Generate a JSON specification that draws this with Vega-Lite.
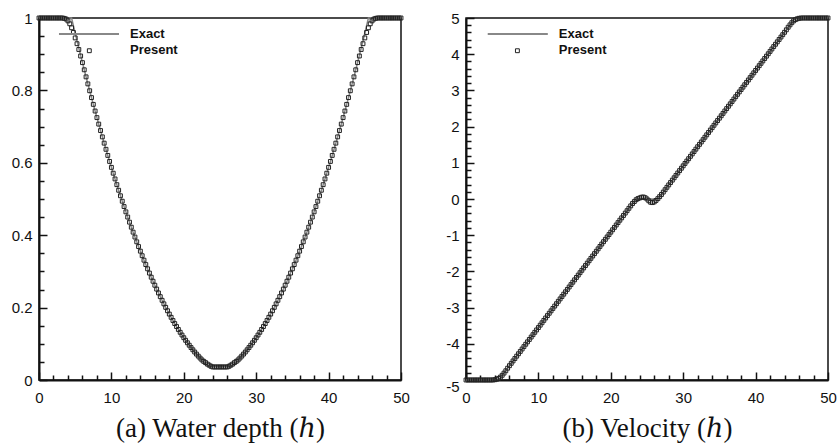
{
"$schema": "https://vega.github.io/schema/vega-lite/v6.json",
"padding": {"left": 10, "top": 10, "right": 5, "bottom": 5},
"background": "white",
"spacing": 33,
"config": {
  "view": {"stroke": "#111", "strokeWidth": 1.5},
  "axis": {"labelFont": "Liberation Sans", "labelFontSize": 15, "labelColor": "#111", "domainColor": "#111", "domainWidth": 2, "tickColor": "#111", "tickWidth": 1.5, "grid": false, "titleFont": "Liberation Serif, DejaVu Serif, serif", "titleFontSize": 27, "titleFontWeight": "normal", "titleColor": "#111"}
},
"datasets": {
"d": [
{"x":0,"he":1,"ue":-5,"hp":1,"up":-5},
{"x":0.25,"he":1,"ue":-5,"hp":1,"up":-5},
{"x":0.5,"he":1,"ue":-5,"hp":1,"up":-5},
{"x":0.75,"he":1,"ue":-5,"hp":1,"up":-5},
{"x":1,"he":1,"ue":-5,"hp":1,"up":-5},
{"x":1.25,"he":1,"ue":-5,"hp":1,"up":-5},
{"x":1.5,"he":1,"ue":-5,"hp":1,"up":-5},
{"x":1.75,"he":1,"ue":-5,"hp":1,"up":-5},
{"x":2,"he":1,"ue":-5,"hp":1,"up":-5},
{"x":2.25,"he":1,"ue":-5,"hp":1,"up":-5},
{"x":2.5,"he":1,"ue":-5,"hp":1,"up":-5},
{"x":2.75,"he":1,"ue":-5,"hp":1,"up":-5},
{"x":3,"he":1,"ue":-5,"hp":1,"up":-5},
{"x":3.25,"he":1,"ue":-5,"hp":1,"up":-5},
{"x":3.5,"he":1,"ue":-5,"hp":0.999,"up":-5},
{"x":3.75,"he":1,"ue":-5,"hp":0.997,"up":-4.998},
{"x":4,"he":1,"ue":-5,"hp":0.992,"up":-4.992},
{"x":4.25,"he":1,"ue":-5,"hp":0.984,"up":-4.978},
{"x":4.5,"he":1,"ue":-5,"hp":0.973,"up":-4.955},
{"x":4.75,"he":0.9789,"ue":-4.934,"hp":0.96,"up":-4.92},
{"x":5,"he":0.958,"ue":-4.868,"hp":0.945,"up":-4.87},
{"x":5.25,"he":0.9373,"ue":-4.802,"hp":0.929,"up":-4.81},
{"x":5.5,"he":0.9169,"ue":-4.737,"hp":0.913,"up":-4.745},
{"x":5.75,"he":0.8967,"ue":-4.671,"hp":0.895,"up":-4.674},
{"x":6,"he":0.8767,"ue":-4.605,"hp":0.8767,"up":-4.605},
{"x":6.25,"he":0.8569,"ue":-4.539,"hp":0.8569,"up":-4.539},
{"x":6.5,"he":0.8374,"ue":-4.473,"hp":0.8374,"up":-4.473},
{"x":6.75,"he":0.818,"ue":-4.407,"hp":0.818,"up":-4.407},
{"x":7,"he":0.799,"ue":-4.341,"hp":0.799,"up":-4.341},
{"x":7.25,"he":0.7801,"ue":-4.275,"hp":0.7801,"up":-4.275},
{"x":7.5,"he":0.7614,"ue":-4.21,"hp":0.7614,"up":-4.21},
{"x":7.75,"he":0.743,"ue":-4.144,"hp":0.743,"up":-4.144},
{"x":8,"he":0.7248,"ue":-4.078,"hp":0.7248,"up":-4.078},
{"x":8.25,"he":0.7069,"ue":-4.012,"hp":0.7069,"up":-4.012},
{"x":8.5,"he":0.6891,"ue":-3.946,"hp":0.6891,"up":-3.946},
{"x":8.75,"he":0.6716,"ue":-3.88,"hp":0.6716,"up":-3.88},
{"x":9,"he":0.6543,"ue":-3.814,"hp":0.6543,"up":-3.814},
{"x":9.25,"he":0.6373,"ue":-3.748,"hp":0.6373,"up":-3.748},
{"x":9.5,"he":0.6204,"ue":-3.683,"hp":0.6204,"up":-3.683},
{"x":9.75,"he":0.6038,"ue":-3.617,"hp":0.6038,"up":-3.617},
{"x":10,"he":0.5874,"ue":-3.551,"hp":0.5874,"up":-3.551},
{"x":10.25,"he":0.5713,"ue":-3.485,"hp":0.5713,"up":-3.485},
{"x":10.5,"he":0.5554,"ue":-3.419,"hp":0.5554,"up":-3.419},
{"x":10.75,"he":0.5396,"ue":-3.353,"hp":0.5396,"up":-3.353},
{"x":11,"he":0.5242,"ue":-3.287,"hp":0.5242,"up":-3.287},
{"x":11.25,"he":0.5089,"ue":-3.221,"hp":0.5089,"up":-3.221},
{"x":11.5,"he":0.4939,"ue":-3.156,"hp":0.4939,"up":-3.156},
{"x":11.75,"he":0.4791,"ue":-3.09,"hp":0.4791,"up":-3.09},
{"x":12,"he":0.4645,"ue":-3.024,"hp":0.4645,"up":-3.024},
{"x":12.25,"he":0.4501,"ue":-2.958,"hp":0.4501,"up":-2.958},
{"x":12.5,"he":0.436,"ue":-2.892,"hp":0.436,"up":-2.892},
{"x":12.75,"he":0.4221,"ue":-2.826,"hp":0.4221,"up":-2.826},
{"x":13,"he":0.4084,"ue":-2.76,"hp":0.4084,"up":-2.76},
{"x":13.25,"he":0.3949,"ue":-2.694,"hp":0.3949,"up":-2.694},
{"x":13.5,"he":0.3817,"ue":-2.629,"hp":0.3817,"up":-2.629},
{"x":13.75,"he":0.3687,"ue":-2.563,"hp":0.3687,"up":-2.563},
{"x":14,"he":0.3559,"ue":-2.497,"hp":0.3559,"up":-2.497},
{"x":14.25,"he":0.3434,"ue":-2.431,"hp":0.3434,"up":-2.431},
{"x":14.5,"he":0.331,"ue":-2.365,"hp":0.331,"up":-2.365},
{"x":14.75,"he":0.3189,"ue":-2.299,"hp":0.3189,"up":-2.299},
{"x":15,"he":0.3071,"ue":-2.233,"hp":0.3071,"up":-2.233},
{"x":15.25,"he":0.2954,"ue":-2.167,"hp":0.2954,"up":-2.167},
{"x":15.5,"he":0.284,"ue":-2.102,"hp":0.284,"up":-2.102},
{"x":15.75,"he":0.2728,"ue":-2.036,"hp":0.2728,"up":-2.036},
{"x":16,"he":0.2618,"ue":-1.97,"hp":0.2618,"up":-1.97},
{"x":16.25,"he":0.2511,"ue":-1.904,"hp":0.2511,"up":-1.904},
{"x":16.5,"he":0.2405,"ue":-1.838,"hp":0.2405,"up":-1.838},
{"x":16.75,"he":0.2302,"ue":-1.772,"hp":0.2302,"up":-1.772},
{"x":17,"he":0.2202,"ue":-1.706,"hp":0.2202,"up":-1.706},
{"x":17.25,"he":0.2103,"ue":-1.64,"hp":0.2103,"up":-1.64},
{"x":17.5,"he":0.2007,"ue":-1.575,"hp":0.2007,"up":-1.575},
{"x":17.75,"he":0.1913,"ue":-1.509,"hp":0.1913,"up":-1.509},
{"x":18,"he":0.1821,"ue":-1.443,"hp":0.1821,"up":-1.443},
{"x":18.25,"he":0.1732,"ue":-1.377,"hp":0.1732,"up":-1.377},
{"x":18.5,"he":0.1644,"ue":-1.311,"hp":0.1644,"up":-1.311},
{"x":18.75,"he":0.1559,"ue":-1.245,"hp":0.1559,"up":-1.245},
{"x":19,"he":0.1477,"ue":-1.179,"hp":0.1477,"up":-1.179},
{"x":19.25,"he":0.1396,"ue":-1.113,"hp":0.1396,"up":-1.113},
{"x":19.5,"he":0.1318,"ue":-1.048,"hp":0.1318,"up":-1.048},
{"x":19.75,"he":0.1242,"ue":-0.982,"hp":0.1242,"up":-0.982},
{"x":20,"he":0.1168,"ue":-0.916,"hp":0.1168,"up":-0.916},
{"x":20.25,"he":0.1097,"ue":-0.85,"hp":0.1097,"up":-0.85},
{"x":20.5,"he":0.1028,"ue":-0.784,"hp":0.1028,"up":-0.784},
{"x":20.75,"he":0.0961,"ue":-0.718,"hp":0.0961,"up":-0.718},
{"x":21,"he":0.0896,"ue":-0.652,"hp":0.0896,"up":-0.652},
{"x":21.25,"he":0.0834,"ue":-0.586,"hp":0.0834,"up":-0.586},
{"x":21.5,"he":0.0773,"ue":-0.521,"hp":0.0773,"up":-0.521},
{"x":21.75,"he":0.0716,"ue":-0.455,"hp":0.0716,"up":-0.455},
{"x":22,"he":0.066,"ue":-0.389,"hp":0.066,"up":-0.389},
{"x":22.25,"he":0.0606,"ue":-0.323,"hp":0.0606,"up":-0.323},
{"x":22.5,"he":0.0555,"ue":-0.257,"hp":0.0555,"up":-0.257},
{"x":22.75,"he":0.0506,"ue":-0.191,"hp":0.0515,"up":-0.19},
{"x":23,"he":0.046,"ue":-0.125,"hp":0.048,"up":-0.125},
{"x":23.25,"he":0.0415,"ue":-0.059,"hp":0.044,"up":-0.07},
{"x":23.5,"he":0.037,"ue":0,"hp":0.041,"up":-0.02},
{"x":23.75,"he":0.037,"ue":0,"hp":0.038,"up":0.01},
{"x":24,"he":0.037,"ue":0,"hp":0.036,"up":0.03},
{"x":24.25,"he":0.037,"ue":0,"hp":0.036,"up":0.05},
{"x":24.5,"he":0.037,"ue":0,"hp":0.036,"up":0.055},
{"x":24.75,"he":0.037,"ue":0,"hp":0.036,"up":0.035},
{"x":25,"he":0.037,"ue":0,"hp":0.036,"up":0},
{"x":25.25,"he":0.037,"ue":0,"hp":0.036,"up":-0.05},
{"x":25.5,"he":0.037,"ue":0,"hp":0.036,"up":-0.09},
{"x":25.75,"he":0.037,"ue":0,"hp":0.036,"up":-0.1},
{"x":26,"he":0.037,"ue":0,"hp":0.036,"up":-0.08},
{"x":26.25,"he":0.037,"ue":0,"hp":0.038,"up":-0.04},
{"x":26.5,"he":0.037,"ue":0,"hp":0.041,"up":0.01},
{"x":26.75,"he":0.0415,"ue":0.059,"hp":0.044,"up":0.065},
{"x":27,"he":0.046,"ue":0.125,"hp":0.048,"up":0.125},
{"x":27.25,"he":0.0506,"ue":0.191,"hp":0.0515,"up":0.191},
{"x":27.5,"he":0.0555,"ue":0.257,"hp":0.0555,"up":0.257},
{"x":27.75,"he":0.0606,"ue":0.323,"hp":0.0606,"up":0.323},
{"x":28,"he":0.066,"ue":0.389,"hp":0.066,"up":0.389},
{"x":28.25,"he":0.0716,"ue":0.455,"hp":0.0716,"up":0.455},
{"x":28.5,"he":0.0773,"ue":0.521,"hp":0.0773,"up":0.521},
{"x":28.75,"he":0.0834,"ue":0.586,"hp":0.0834,"up":0.586},
{"x":29,"he":0.0896,"ue":0.652,"hp":0.0896,"up":0.652},
{"x":29.25,"he":0.0961,"ue":0.718,"hp":0.0961,"up":0.718},
{"x":29.5,"he":0.1028,"ue":0.784,"hp":0.1028,"up":0.784},
{"x":29.75,"he":0.1097,"ue":0.85,"hp":0.1097,"up":0.85},
{"x":30,"he":0.1168,"ue":0.916,"hp":0.1168,"up":0.916},
{"x":30.25,"he":0.1242,"ue":0.982,"hp":0.1242,"up":0.982},
{"x":30.5,"he":0.1318,"ue":1.048,"hp":0.1318,"up":1.048},
{"x":30.75,"he":0.1396,"ue":1.113,"hp":0.1396,"up":1.113},
{"x":31,"he":0.1477,"ue":1.179,"hp":0.1477,"up":1.179},
{"x":31.25,"he":0.1559,"ue":1.245,"hp":0.1559,"up":1.245},
{"x":31.5,"he":0.1644,"ue":1.311,"hp":0.1644,"up":1.311},
{"x":31.75,"he":0.1732,"ue":1.377,"hp":0.1732,"up":1.377},
{"x":32,"he":0.1821,"ue":1.443,"hp":0.1821,"up":1.443},
{"x":32.25,"he":0.1913,"ue":1.509,"hp":0.1913,"up":1.509},
{"x":32.5,"he":0.2007,"ue":1.575,"hp":0.2007,"up":1.575},
{"x":32.75,"he":0.2103,"ue":1.64,"hp":0.2103,"up":1.64},
{"x":33,"he":0.2202,"ue":1.706,"hp":0.2202,"up":1.706},
{"x":33.25,"he":0.2302,"ue":1.772,"hp":0.2302,"up":1.772},
{"x":33.5,"he":0.2405,"ue":1.838,"hp":0.2405,"up":1.838},
{"x":33.75,"he":0.2511,"ue":1.904,"hp":0.2511,"up":1.904},
{"x":34,"he":0.2618,"ue":1.97,"hp":0.2618,"up":1.97},
{"x":34.25,"he":0.2728,"ue":2.036,"hp":0.2728,"up":2.036},
{"x":34.5,"he":0.284,"ue":2.102,"hp":0.284,"up":2.102},
{"x":34.75,"he":0.2954,"ue":2.167,"hp":0.2954,"up":2.167},
{"x":35,"he":0.3071,"ue":2.233,"hp":0.3071,"up":2.233},
{"x":35.25,"he":0.3189,"ue":2.299,"hp":0.3189,"up":2.299},
{"x":35.5,"he":0.331,"ue":2.365,"hp":0.331,"up":2.365},
{"x":35.75,"he":0.3434,"ue":2.431,"hp":0.3434,"up":2.431},
{"x":36,"he":0.3559,"ue":2.497,"hp":0.3559,"up":2.497},
{"x":36.25,"he":0.3687,"ue":2.563,"hp":0.3687,"up":2.563},
{"x":36.5,"he":0.3817,"ue":2.629,"hp":0.3817,"up":2.629},
{"x":36.75,"he":0.3949,"ue":2.694,"hp":0.3949,"up":2.694},
{"x":37,"he":0.4084,"ue":2.76,"hp":0.4084,"up":2.76},
{"x":37.25,"he":0.4221,"ue":2.826,"hp":0.4221,"up":2.826},
{"x":37.5,"he":0.436,"ue":2.892,"hp":0.436,"up":2.892},
{"x":37.75,"he":0.4501,"ue":2.958,"hp":0.4501,"up":2.958},
{"x":38,"he":0.4645,"ue":3.024,"hp":0.4645,"up":3.024},
{"x":38.25,"he":0.4791,"ue":3.09,"hp":0.4791,"up":3.09},
{"x":38.5,"he":0.4939,"ue":3.156,"hp":0.4939,"up":3.156},
{"x":38.75,"he":0.5089,"ue":3.221,"hp":0.5089,"up":3.221},
{"x":39,"he":0.5242,"ue":3.287,"hp":0.5242,"up":3.287},
{"x":39.25,"he":0.5396,"ue":3.353,"hp":0.5396,"up":3.353},
{"x":39.5,"he":0.5554,"ue":3.419,"hp":0.5554,"up":3.419},
{"x":39.75,"he":0.5713,"ue":3.485,"hp":0.5713,"up":3.485},
{"x":40,"he":0.5874,"ue":3.551,"hp":0.5874,"up":3.551},
{"x":40.25,"he":0.6038,"ue":3.617,"hp":0.6038,"up":3.617},
{"x":40.5,"he":0.6204,"ue":3.683,"hp":0.6204,"up":3.683},
{"x":40.75,"he":0.6373,"ue":3.748,"hp":0.6373,"up":3.748},
{"x":41,"he":0.6543,"ue":3.814,"hp":0.6543,"up":3.814},
{"x":41.25,"he":0.6716,"ue":3.88,"hp":0.6716,"up":3.88},
{"x":41.5,"he":0.6891,"ue":3.946,"hp":0.6891,"up":3.946},
{"x":41.75,"he":0.7069,"ue":4.012,"hp":0.7069,"up":4.012},
{"x":42,"he":0.7248,"ue":4.078,"hp":0.7248,"up":4.078},
{"x":42.25,"he":0.743,"ue":4.144,"hp":0.743,"up":4.144},
{"x":42.5,"he":0.7614,"ue":4.21,"hp":0.7614,"up":4.21},
{"x":42.75,"he":0.7801,"ue":4.275,"hp":0.7801,"up":4.275},
{"x":43,"he":0.799,"ue":4.341,"hp":0.799,"up":4.341},
{"x":43.25,"he":0.818,"ue":4.407,"hp":0.818,"up":4.407},
{"x":43.5,"he":0.8374,"ue":4.473,"hp":0.8374,"up":4.473},
{"x":43.75,"he":0.8569,"ue":4.539,"hp":0.8569,"up":4.539},
{"x":44,"he":0.8767,"ue":4.605,"hp":0.8767,"up":4.605},
{"x":44.25,"he":0.8967,"ue":4.671,"hp":0.895,"up":4.674},
{"x":44.5,"he":0.9169,"ue":4.737,"hp":0.913,"up":4.745},
{"x":44.75,"he":0.9373,"ue":4.802,"hp":0.929,"up":4.81},
{"x":45,"he":0.958,"ue":4.868,"hp":0.945,"up":4.87},
{"x":45.25,"he":0.9789,"ue":4.934,"hp":0.96,"up":4.92},
{"x":45.5,"he":1,"ue":5,"hp":0.973,"up":4.955},
{"x":45.75,"he":1,"ue":5,"hp":0.984,"up":4.978},
{"x":46,"he":1,"ue":5,"hp":0.992,"up":4.992},
{"x":46.25,"he":1,"ue":5,"hp":0.997,"up":4.998},
{"x":46.5,"he":1,"ue":5,"hp":0.999,"up":5},
{"x":46.75,"he":1,"ue":5,"hp":1,"up":5},
{"x":47,"he":1,"ue":5,"hp":1,"up":5},
{"x":47.25,"he":1,"ue":5,"hp":1,"up":5},
{"x":47.5,"he":1,"ue":5,"hp":1,"up":5},
{"x":47.75,"he":1,"ue":5,"hp":1,"up":5},
{"x":48,"he":1,"ue":5,"hp":1,"up":5},
{"x":48.25,"he":1,"ue":5,"hp":1,"up":5},
{"x":48.5,"he":1,"ue":5,"hp":1,"up":5},
{"x":48.75,"he":1,"ue":5,"hp":1,"up":5},
{"x":49,"he":1,"ue":5,"hp":1,"up":5},
{"x":49.25,"he":1,"ue":5,"hp":1,"up":5},
{"x":49.5,"he":1,"ue":5,"hp":1,"up":5},
{"x":49.75,"he":1,"ue":5,"hp":1,"up":5},
{"x":50,"he":1,"ue":5,"hp":1,"up":5}
],
"legLineA": [{"x":2.76,"x2":11.05,"y":0.956}],
"legPtA": [{"x":6.95,"y":0.9096}],
"legTxtA": [{"x":12.57,"y":0.9436,"t":"Exact"},{"x":12.57,"y":0.9005,"t":"Present"}],
"legLineB": [{"x":3.0,"x2":11.3,"y":4.558}],
"legPtB": [{"x":7.1,"y":4.096}],
"legTxtB": [{"x":12.82,"y":4.436,"t":"Exact"},{"x":12.82,"y":4.005,"t":"Present"}]
},
"hconcat": [
{
  "width": 362, "height": 362,
  "resolve": {"axis": {"x": "independent", "y": "independent"}},
  "layer": [
    {"data": {"name": "d"}, "mark": {"type": "line", "color": "#888", "strokeWidth": 1.5},
     "encoding": {
       "x": {"field": "x", "type": "quantitative", "scale": {"domain": [0,50], "nice": false, "zero": false},
             "axis": {"orient": "bottom", "values": [0,10,20,30,40,50], "tickSize": -8, "labelPadding": 18, "title": "(a) Water depth (ℎ)", "titlePadding": 10, "labelFlush": false}},
       "y": {"field": "he", "type": "quantitative", "scale": {"domain": [0,1], "nice": false, "zero": false},
             "axis": {"orient": "left", "values": [0,0.2,0.4,0.6,0.8,1], "format": "~g", "tickSize": -8, "labelPadding": 15, "title": null, "labelFlush": false}}
     }},
    {"data": {"name": "d"}, "mark": {"type": "point", "shape": "square", "filled": false, "size": 15, "strokeWidth": 1, "color": "#222", "opacity": 1},
     "encoding": {
       "x": {"field": "x", "type": "quantitative", "axis": {"orient": "bottom", "values": [2,4,6,8,12,14,16,18,22,24,26,28,32,34,36,38,42,44,46,48], "tickSize": -5, "labels": false, "domain": false, "title": null}},
       "y": {"field": "hp", "type": "quantitative", "axis": {"orient": "left", "values": [0.05,0.1,0.15,0.25,0.3,0.35,0.45,0.5,0.55,0.65,0.7,0.75,0.85,0.9,0.95], "tickSize": -5, "labels": false, "domain": false, "title": null}}
     }},
    {"data": {"name": "legLineA"}, "mark": {"type": "rule", "color": "#888", "strokeWidth": 2},
     "encoding": {"x": {"field": "x", "type": "quantitative", "axis": null}, "x2": {"field": "x2"}, "y": {"field": "y", "type": "quantitative", "axis": null}}},
    {"data": {"name": "legPtA"}, "mark": {"type": "point", "shape": "square", "filled": false, "size": 15, "strokeWidth": 1, "color": "#222", "opacity": 1},
     "encoding": {"x": {"field": "x", "type": "quantitative", "axis": null}, "y": {"field": "y", "type": "quantitative", "axis": null}}},
    {"data": {"name": "legTxtA"}, "mark": {"type": "text", "align": "left", "baseline": "alphabetic", "font": "Liberation Sans", "fontWeight": "bold", "fontSize": 13, "color": "#111"},
     "encoding": {"x": {"field": "x", "type": "quantitative", "axis": null}, "y": {"field": "y", "type": "quantitative", "axis": null}, "text": {"field": "t"}}}
  ]
},
{
  "width": 362, "height": 362,
  "resolve": {"axis": {"x": "independent", "y": "independent"}},
  "layer": [
    {"data": {"name": "d"}, "mark": {"type": "line", "color": "#888", "strokeWidth": 1.5},
     "encoding": {
       "x": {"field": "x", "type": "quantitative", "scale": {"domain": [0,50], "nice": false, "zero": false},
             "axis": {"orient": "bottom", "values": [0,10,20,30,40,50], "tickSize": -8, "labelPadding": 18, "title": "(b) Velocity (ℎ)", "titlePadding": 10, "labelFlush": false}},
       "y": {"field": "ue", "type": "quantitative", "scale": {"domain": [-5,5], "nice": false, "zero": false},
             "axis": {"orient": "left", "values": [-5,-4,-3,-2,-1,0,1,2,3,4,5], "tickSize": -8, "labelPadding": 15, "title": null, "labelFlush": false, "labelExpr": "replace(datum.label, '\u2212', '-')", "labelOffset": {"condition": {"test": "datum.value == -5", "value": 6}, "value": 0}}}
     }},
    {"data": {"name": "d"}, "mark": {"type": "point", "shape": "square", "filled": false, "size": 15, "strokeWidth": 1, "color": "#222", "opacity": 1},
     "encoding": {
       "x": {"field": "x", "type": "quantitative", "axis": {"orient": "bottom", "values": [2,4,6,8,12,14,16,18,22,24,26,28,32,34,36,38,42,44,46,48], "tickSize": -5, "labels": false, "domain": false, "title": null}},
       "y": {"field": "up", "type": "quantitative", "axis": {"orient": "left", "values": [-4.8,-4.6,-4.4,-4.2,-3.8,-3.6,-3.4,-3.2,-2.8,-2.6,-2.4,-2.2,-1.8,-1.6,-1.4,-1.2,-0.8,-0.6,-0.4,-0.2,0.2,0.4,0.6,0.8,1.2,1.4,1.6,1.8,2.2,2.4,2.6,2.8,3.2,3.4,3.6,3.8,4.2,4.4,4.6,4.8], "tickSize": -5, "labels": false, "domain": false, "title": null}}
     }},
    {"data": {"name": "legLineB"}, "mark": {"type": "rule", "color": "#888", "strokeWidth": 2},
     "encoding": {"x": {"field": "x", "type": "quantitative", "axis": null}, "x2": {"field": "x2"}, "y": {"field": "y", "type": "quantitative", "axis": null}}},
    {"data": {"name": "legPtB"}, "mark": {"type": "point", "shape": "square", "filled": false, "size": 15, "strokeWidth": 1, "color": "#222", "opacity": 1},
     "encoding": {"x": {"field": "x", "type": "quantitative", "axis": null}, "y": {"field": "y", "type": "quantitative", "axis": null}}},
    {"data": {"name": "legTxtB"}, "mark": {"type": "text", "align": "left", "baseline": "alphabetic", "font": "Liberation Sans", "fontWeight": "bold", "fontSize": 13, "color": "#111"},
     "encoding": {"x": {"field": "x", "type": "quantitative", "axis": null}, "y": {"field": "y", "type": "quantitative", "axis": null}, "text": {"field": "t"}}}
  ]
}
]
}
